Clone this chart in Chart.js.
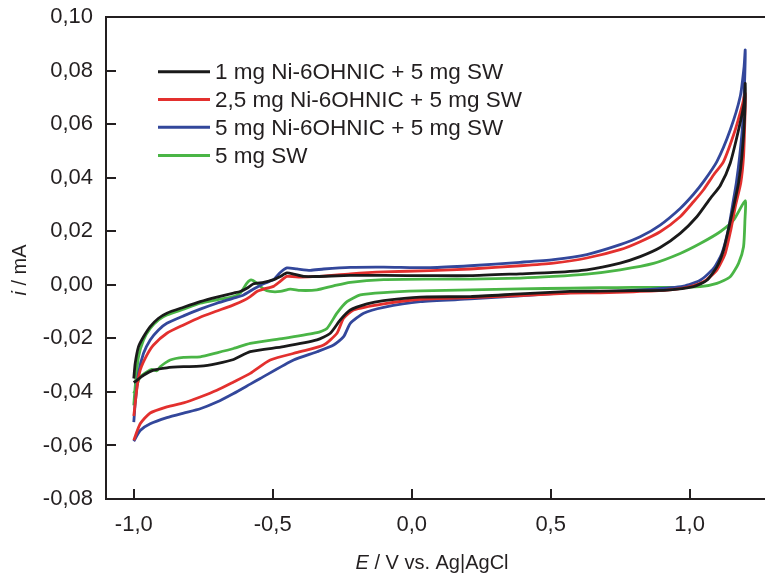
<!DOCTYPE html>
<html><head><meta charset="utf-8">
<script src="https://cdn.jsdelivr.net/npm/chart.js@4.4.1/dist/chart.umd.min.js"></script>
<style>
html,body{margin:0;padding:0;background:#fff;overflow:hidden;}
#wrap{position:relative;width:780px;height:574px;}
</style></head><body>
<div id="wrap"><canvas id="c"></canvas></div>
<script>
// ---- data ----
const seriesLabels = ["1 mg Ni-6OHNIC + 5 mg SW", "2,5 mg Ni-6OHNIC + 5 mg SW", "5 mg Ni-6OHNIC + 5 mg SW", "5 mg SW"];
const seriesColors = ["#1a1a1a", "#e3302e", "#33479b", "#4ab546"];
const xTicks = [-1.0, -0.5, 0.0, 0.5, 1.0];
const yTicks = [-0.08, -0.06, -0.04, -0.02, 0.00, 0.02, 0.04, 0.06, 0.08, 0.10];

const blackE = [-1.000,-0.995,-0.983,-0.965,-0.941,-0.911,-0.881,-0.821,-0.761,-0.701,-0.641,-0.617,-0.593,-0.569,-0.533,-0.497,-0.473,-0.449,-0.425,-0.389,-0.341,-0.221,-0.101,0.067,0.211,0.390,0.510,0.630,0.750,0.822,0.894,0.966,1.026,1.074,1.110,1.146,1.176,1.196,1.200,1.198,1.188,1.176,1.160,1.142,1.122,1.098,1.062,1.014,0.918,0.798,0.678,0.570,0.390,0.211,0.031,-0.101,-0.161,-0.221,-0.257,-0.293,-0.341,-0.461,-0.581,-0.641,-0.701,-0.761,-0.821,-0.881,-0.929,-0.965,-0.988,-1.000];
const blackI = [-0.0350,-0.0294,-0.0231,-0.0194,-0.0156,-0.0125,-0.0106,-0.0084,-0.0063,-0.0046,-0.0031,-0.0025,-0.0013,0.0004,0.0009,0.0019,0.0031,0.0044,0.0040,0.0031,0.0031,0.0035,0.0035,0.0034,0.0034,0.0041,0.0046,0.0056,0.0081,0.0105,0.0139,0.0192,0.0254,0.0322,0.0370,0.0454,0.0578,0.0678,0.0752,0.0628,0.0479,0.0380,0.0300,0.0217,0.0129,0.0067,0.0017,-0.0007,-0.0020,-0.0022,-0.0024,-0.0025,-0.0034,-0.0044,-0.0046,-0.0059,-0.0071,-0.0094,-0.0131,-0.0181,-0.0206,-0.0231,-0.0250,-0.0279,-0.0294,-0.0304,-0.0306,-0.0310,-0.0319,-0.0338,-0.0356,-0.0365];

const redE = [-1.000,-0.988,-0.977,-0.953,-0.929,-0.881,-0.821,-0.761,-0.701,-0.641,-0.605,-0.581,-0.557,-0.533,-0.497,-0.473,-0.449,-0.401,-0.341,-0.221,-0.101,0.067,0.211,0.390,0.510,0.630,0.750,0.822,0.894,0.966,1.014,1.050,1.086,1.122,1.164,1.188,1.200,1.199,1.194,1.184,1.166,1.148,1.128,1.098,1.050,0.990,0.918,0.798,0.678,0.570,0.390,0.211,0.031,-0.101,-0.209,-0.245,-0.269,-0.317,-0.401,-0.509,-0.581,-0.641,-0.701,-0.761,-0.821,-0.881,-0.941,-0.977,-1.000];
const redI = [-0.0490,-0.0381,-0.0319,-0.0263,-0.0225,-0.0181,-0.0150,-0.0121,-0.0098,-0.0075,-0.0059,-0.0044,-0.0025,-0.0016,-0.0006,0.0013,0.0031,0.0029,0.0031,0.0041,0.0048,0.0053,0.0059,0.0071,0.0081,0.0100,0.0131,0.0161,0.0198,0.0254,0.0310,0.0355,0.0410,0.0460,0.0578,0.0665,0.0715,0.0628,0.0479,0.0380,0.0300,0.0204,0.0117,0.0055,0.0011,-0.0010,-0.0020,-0.0026,-0.0030,-0.0031,-0.0040,-0.0048,-0.0054,-0.0071,-0.0094,-0.0125,-0.0181,-0.0225,-0.0250,-0.0281,-0.0331,-0.0363,-0.0394,-0.0419,-0.0441,-0.0456,-0.0479,-0.0519,-0.0581];

const blueE = [-1.000,-0.995,-0.983,-0.965,-0.941,-0.911,-0.881,-0.821,-0.761,-0.701,-0.641,-0.605,-0.569,-0.533,-0.497,-0.473,-0.449,-0.413,-0.365,-0.317,-0.221,-0.101,0.067,0.211,0.390,0.510,0.630,0.750,0.822,0.894,0.966,1.014,1.050,1.098,1.146,1.182,1.196,1.200,1.198,1.192,1.180,1.168,1.155,1.140,1.116,1.086,1.038,0.978,0.858,0.678,0.570,0.390,0.211,0.031,-0.101,-0.173,-0.221,-0.245,-0.281,-0.341,-0.425,-0.545,-0.581,-0.641,-0.701,-0.761,-0.821,-0.881,-0.941,-0.977,-1.000];
const blueI = [-0.0513,-0.0444,-0.0331,-0.0256,-0.0206,-0.0169,-0.0144,-0.0116,-0.0091,-0.0069,-0.0050,-0.0038,-0.0016,0.0004,0.0019,0.0046,0.0063,0.0059,0.0054,0.0059,0.0065,0.0066,0.0064,0.0071,0.0084,0.0094,0.0113,0.0150,0.0179,0.0223,0.0285,0.0338,0.0385,0.0460,0.0578,0.0703,0.0815,0.0877,0.0765,0.0615,0.0479,0.0380,0.0300,0.0210,0.0117,0.0061,0.0017,-0.0005,-0.0017,-0.0026,-0.0029,-0.0041,-0.0053,-0.0063,-0.0084,-0.0106,-0.0144,-0.0194,-0.0225,-0.0250,-0.0281,-0.0350,-0.0371,-0.0406,-0.0438,-0.0463,-0.0479,-0.0496,-0.0519,-0.0544,-0.0584];

const greenE = [-1.000,-0.995,-0.983,-0.965,-0.941,-0.911,-0.881,-0.821,-0.761,-0.701,-0.641,-0.617,-0.593,-0.578,-0.557,-0.533,-0.509,-0.473,-0.437,-0.401,-0.341,-0.281,-0.221,-0.101,0.067,0.211,0.390,0.510,0.630,0.750,0.870,0.966,1.038,1.110,1.158,1.200,1.199,1.194,1.176,1.146,1.098,1.038,0.918,0.798,0.678,0.570,0.390,0.211,0.031,-0.101,-0.185,-0.233,-0.269,-0.305,-0.341,-0.461,-0.581,-0.641,-0.701,-0.761,-0.821,-0.869,-0.905,-0.917,-0.935,-0.953,-0.977,-0.991,-1.000];
const greenI = [-0.0450,-0.0381,-0.0269,-0.0206,-0.0163,-0.0131,-0.0113,-0.0091,-0.0069,-0.0056,-0.0044,-0.0031,0.0006,0.0018,0.0006,-0.0016,-0.0025,-0.0025,-0.0016,-0.0021,-0.0019,-0.0004,0.0009,0.0019,0.0021,0.0021,0.0025,0.0031,0.0040,0.0056,0.0080,0.0117,0.0154,0.0198,0.0241,0.0314,0.0241,0.0142,0.0080,0.0030,0.0005,-0.0007,-0.0010,-0.0010,-0.0011,-0.0013,-0.0015,-0.0019,-0.0023,-0.0029,-0.0038,-0.0063,-0.0106,-0.0163,-0.0179,-0.0200,-0.0219,-0.0238,-0.0254,-0.0269,-0.0271,-0.0281,-0.0306,-0.0321,-0.0316,-0.0325,-0.0344,-0.0381,-0.0406];

// ---- build ----
const pairs = (E, I) => E.map((e, k) => ({x: e, y: I[k]}));
const seriesData = [pairs(blackE, blackI), pairs(redE, redI), pairs(blueE, blueI), pairs(greenE, greenI)];

const FONT = "'Liberation Sans', Arial, Helvetica, sans-serif";
const AXIS = "#231f20";
Chart.defaults.font.family = FONT;

const fmt = (v, d) => v.toFixed(d).replace('.', ',').replace(/^-0,0+$/, m => m.slice(1));

const decor = {
  id: 'decor',
  afterDraw(chart) {
    const {ctx, chartArea: a, scales: {x, y}} = chart;
    ctx.save();
    ctx.strokeStyle = AXIS;
    ctx.lineWidth = 2;
    ctx.beginPath();
    ctx.moveTo(a.left - 1, a.top);
    ctx.lineTo(chart.width, a.top);
    x.ticks.forEach(t => { const p = Math.round(x.getPixelForValue(t.value)); ctx.moveTo(p, a.bottom); ctx.lineTo(p, a.bottom - 10); });
    y.ticks.forEach(t => { const p = Math.round(y.getPixelForValue(t.value)); ctx.moveTo(a.left, p); ctx.lineTo(a.left + 10, p); });
    ctx.stroke();

    // legend
    const rows = [71.7, 99.4, 127.2, 155.5];
    ctx.font = "22.5px " + FONT;
    ctx.textBaseline = 'middle';
    ctx.textAlign = 'left';
    chart.data.datasets.forEach((ds, k) => {
      ctx.strokeStyle = ds.borderColor;
      ctx.lineWidth = 3;
      ctx.beginPath();
      ctx.moveTo(158, rows[k]); ctx.lineTo(210, rows[k]);
      ctx.stroke();
      ctx.fillStyle = '#231f20';
      ctx.fillText(ds.label, 215, rows[k] + 1.5);
    });

    // axis titles (mixed italic)
    const drawMixed = (parts, cx, cy) => {
      let w = 0;
      parts.forEach(p => { ctx.font = p[1] + " 20px " + FONT; w += ctx.measureText(p[0]).width; });
      let xx = cx - w / 2;
      parts.forEach(p => { ctx.font = p[1] + " 20px " + FONT; ctx.fillText(p[0], xx, cy); xx += ctx.measureText(p[0]).width; });
    };
    ctx.fillStyle = '#231f20';
    drawMixed([["E", "italic"], [" / V vs. Ag|AgCl", "normal"]], 432, 563);
    ctx.save();
    ctx.translate(20, 270);
    ctx.rotate(-Math.PI / 2);
    drawMixed([["i", "italic"], [" / mA", "normal"]], 0, 0);
    ctx.restore();
    ctx.restore();
  }
};

new Chart(document.getElementById('c'), {
  type: 'scatter',
  data: {
    datasets: seriesData.map((d, k) => ({
      label: seriesLabels[k],
      data: d,
      showLine: true,
      borderColor: seriesColors[k],
      backgroundColor: seriesColors[k],
      borderWidth: 2.8,
      pointRadius: 0,
      tension: 0.2,
      fill: false
    }))
  },
  options: {
    responsive: true,
    maintainAspectRatio: false,
    animation: false,
    layout: {padding: {top: 17, right: 7, bottom: 0, left: 0}},
    plugins: {legend: {display: false}, tooltip: {enabled: false}},
    scales: {
      x: {
        type: 'linear', min: -1.1, max: 1.3,
        afterBuildTicks: s => { s.ticks = xTicks.map(v => ({value: v})); },
        afterFit: s => { s.height = 75; s.paddingLeft = 0; s.paddingRight = 0; s.paddingTop = 0; s.paddingBottom = 0; },
        ticks: {callback: v => fmt(v, 1), font: {size: 22}, color: AXIS, padding: 13, maxRotation: 0, autoSkip: false},
        grid: {display: false, drawTicks: false},
        border: {display: true, color: AXIS, width: 2}
      },
      y: {
        type: 'linear', min: -0.08, max: 0.10,
        afterBuildTicks: s => { s.ticks = yTicks.map(v => ({value: v})); },
        afterFit: s => { s.width = 106; s.paddingTop = 0; s.paddingBottom = 0; s.paddingLeft = 0; s.paddingRight = 0; },
        ticks: {callback: v => fmt(v, 2), font: {size: 22}, color: AXIS, padding: 13, autoSkip: false},
        grid: {display: false, drawTicks: false},
        border: {display: true, color: AXIS, width: 2}
      }
    }
  },
  plugins: [decor]
});
</script>
</body></html>
